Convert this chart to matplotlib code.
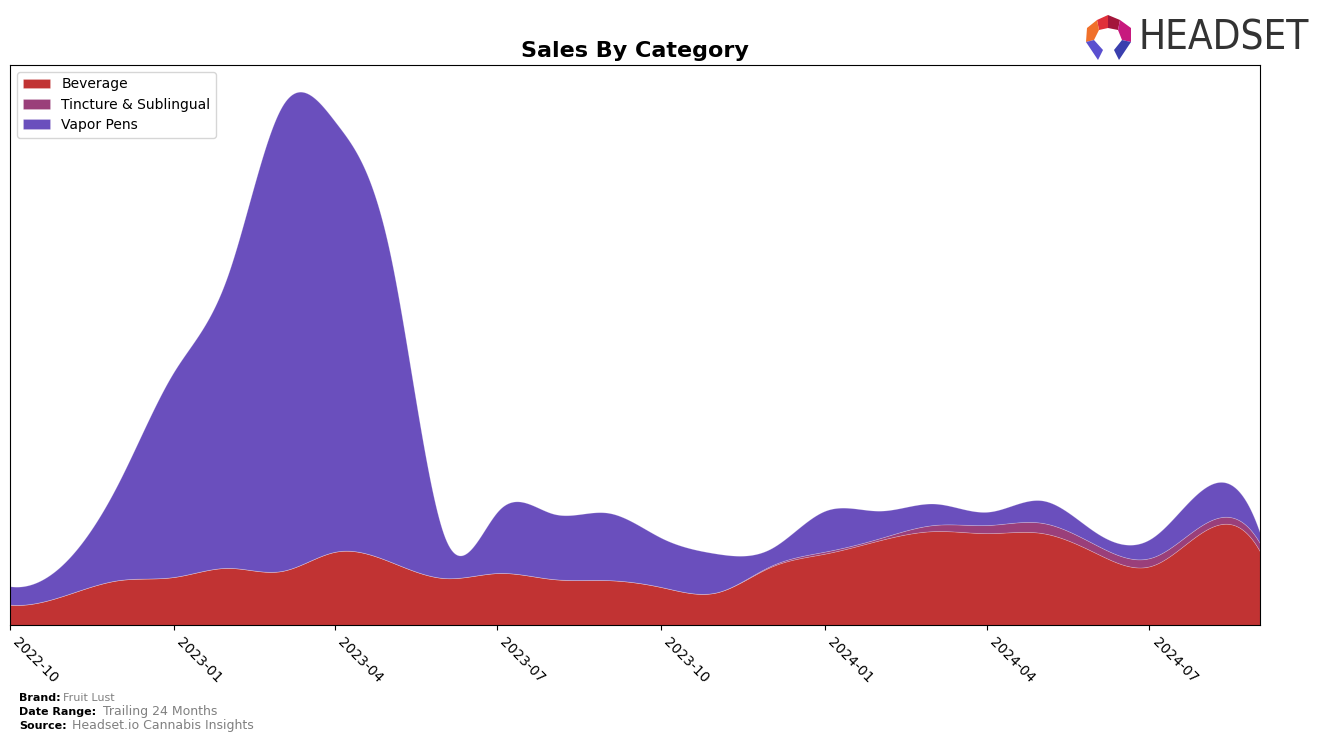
import numpy as np
import pandas as pd
import matplotlib
matplotlib.use("Agg")
import matplotlib.pyplot as plt
import matplotlib.dates as mdates
from matplotlib.patches import Polygon

# monthly values (arbitrary units, no y scale shown)
months = pd.date_range("2022-10-01", "2024-09-01", freq="MS")
beverage = [20, 29, 44, 47, 56, 53, 72, 62, 46, 51, 45, 44,
            37, 32, 57, 70, 83, 92, 90, 90, 70, 58, 93, 72]
tincture = [0, 0, 0, 0, 0, 0, 0, 0, 0, 0, 0, 0,
            0, 0, 1, 2, 2, 6, 8, 10, 8, 8, 7, 8]
vapor_pens = [18, 32, 96, 200, 286, 455, 420, 300, 40, 62, 64, 66,
              48, 38, 17, 40, 27, 21, 13, 22, 12, 19, 35, 10]
categories = ["Beverage", "Tincture & Sublingual", "Vapor Pens"]
colors = ["#c13333", "#9a3f7a", "#6a4fbd"]


def spline(y, n_out):
    # not-a-knot cubic spline on evenly spaced nodes
    y = np.asarray(y, float)
    n = len(y)
    A = np.zeros((n, n))
    b = np.zeros(n)
    A[0, :3] = [1, -2, 1]
    A[-1, -3:] = [1, -2, 1]
    for i in range(1, n - 1):
        A[i, i - 1:i + 2] = [1, 4, 1]
        b[i] = 6 * (y[i + 1] - 2 * y[i] + y[i - 1])
    M = np.linalg.solve(A, b)
    t = np.linspace(0, n - 1, n_out)
    i = np.clip(np.floor(t).astype(int), 0, n - 2)
    u = t - i
    s = ((1 - u) * y[i] + u * y[i + 1]
         + ((1 - u) ** 3 - (1 - u)) * M[i] / 6
         + (u ** 3 - u) * M[i + 1] / 6)
    return s


n_fine = 800
x_num = mdates.date2num(months)
x_fine = np.linspace(x_num[0], x_num[-1], n_fine)
layers = [np.clip(spline(s, n_fine), 0, None) for s in (beverage, tincture, vapor_pens)]

fig = plt.figure(figsize=(13.24, 7.42), dpi=100)
ax = fig.add_axes([10 / 1324, 1 - 625 / 742, 1250 / 1324, 560 / 742])

ax.stackplot(x_fine, *layers, labels=categories, colors=colors,
             edgecolor=(1, 1, 1, 0.25), linewidth=0.5)

ax.set_xlim(x_num[0], x_num[-1])
total = np.sum(layers, axis=0)
ax.set_ylim(0, total.max() * 1.05)
ax.set_yticks([])

ax.xaxis.set_major_locator(mdates.MonthLocator(bymonth=[1, 4, 7, 10]))
ax.xaxis.set_major_formatter(mdates.DateFormatter("%Y-%m"))
for lbl in ax.get_xticklabels():
    lbl.set_rotation(-45)
    lbl.set_ha("left")
    lbl.set_va("top")
    lbl.set_fontsize(10)

ax.set_title("Sales By Category", fontsize=16, fontweight="bold", pad=6)
ax.legend(loc="upper left", fontsize=10, handlelength=2, borderpad=0.4,
          labelspacing=0.45)

# footer
fig.text(19 / 1324, 1 - 698 / 742, "Brand:", fontsize=8, fontweight="bold", va="center")
fig.text(63 / 1324, 1 - 698 / 742, "Fruit Lust", fontsize=8, color="gray", va="center")
fig.text(19 / 1324, 1 - 712 / 742, "Date Range:", fontsize=8, fontweight="bold", va="center")
fig.text(103 / 1324, 1 - 712 / 742, "Trailing 24 Months", fontsize=9, color="gray", va="center")
fig.text(19 / 1324, 1 - 726 / 742, "Source:", fontsize=8, fontweight="bold", va="center")
fig.text(72 / 1324, 1 - 726 / 742, "Headset.io Cannabis Insights", fontsize=9, color="gray", va="center")

# logo
fig.text(1138 / 1324, 1 - 39 / 742, "HEADSET", fontsize=29, color="#333333",
         va="center", ha="left", family="DejaVu Sans", fontstretch="condensed")


def P(pts):
    return [(x / 1324, 1 - y / 742) for x, y in pts]


logo_parts = [
    ([(1097, 20), (1108, 15), (1108, 28), (1099, 30)], "#e0303a"),
    ([(1108, 15), (1120, 20), (1118, 30), (1108, 28)], "#a3153a"),
    ([(1120, 20), (1131, 28), (1131, 42), (1122, 40), (1118, 30)], "#c7197e"),
    ([(1097, 20), (1099, 30), (1094, 40), (1086, 42), (1087, 28)], "#f0702a"),
    ([(1086, 42), (1094, 40), (1103, 50), (1098, 60)], "#5a4fcf"),
    ([(1131, 42), (1122, 40), (1114, 50), (1119, 60)], "#3a3fae"),
]
for pts, c in logo_parts:
    fig.patches.append(Polygon(P(pts), closed=True, facecolor=c, edgecolor="none",
                               transform=fig.transFigure, figure=fig))

fig.savefig("out.png", dpi=100)
